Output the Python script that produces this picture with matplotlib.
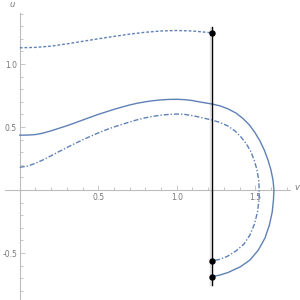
import matplotlib
matplotlib.use("Agg")
import matplotlib.pyplot as plt

# --- data ---
solid_v = [0.0, 0.05, 0.1, 0.15, 0.2, 0.25, 0.3, 0.35, 0.4, 0.45, 0.5, 0.55,
           0.6, 0.65, 0.7, 0.75, 0.8, 0.85, 0.9, 0.95, 1.0, 1.05, 1.1, 1.15,
           1.222, 1.275, 1.326, 1.377, 1.422, 1.463, 1.498, 1.530, 1.559,
           1.581, 1.600, 1.613, 1.619, 1.616, 1.608, 1.590, 1.562, 1.520,
           1.466, 1.403, 1.326, 1.275, 1.222]
solid_u = [0.435, 0.436, 0.44, 0.452, 0.47, 0.49, 0.51, 0.532, 0.555, 0.578,
           0.60, 0.62, 0.64, 0.658, 0.675, 0.689, 0.70, 0.709, 0.715, 0.719,
           0.72, 0.717, 0.71, 0.698, 0.683, 0.668, 0.644, 0.611, 0.567,
           0.516, 0.456, 0.389, 0.313, 0.238, 0.159, 0.079, 0.0, -0.079,
           -0.175, -0.278, -0.381, -0.476, -0.556, -0.611, -0.655, -0.675,
           -0.688]

dashdot_v = [0.0, 0.05, 0.1, 0.15, 0.2, 0.25, 0.3, 0.35, 0.4, 0.45, 0.5,
             0.55, 0.6, 0.65, 0.7, 0.75, 0.8, 0.85, 0.9, 0.95, 1.0, 1.05,
             1.1, 1.15, 1.222, 1.275, 1.326, 1.371, 1.409, 1.444, 1.473,
             1.495, 1.511, 1.522, 1.525, 1.524, 1.514, 1.495, 1.466, 1.428,
             1.377, 1.320, 1.269, 1.222]
dashdot_u = [0.18, 0.19, 0.212, 0.24, 0.272, 0.305, 0.337, 0.368, 0.398,
             0.426, 0.453, 0.478, 0.50, 0.52, 0.54, 0.558, 0.573, 0.585,
             0.594, 0.60, 0.603, 0.60, 0.59, 0.577, 0.556, 0.536, 0.508,
             0.468, 0.421, 0.365, 0.302, 0.230, 0.159, 0.079, 0.0, -0.079,
             -0.175, -0.270, -0.357, -0.429, -0.484, -0.528, -0.552, -0.561]

dotted_v = [0.0, 0.1, 0.2, 0.3, 0.4, 0.5, 0.6, 0.7, 0.8, 0.9, 1.0, 1.1,
            1.222]
dotted_u = [1.129, 1.132, 1.142, 1.16, 1.18, 1.20, 1.219, 1.237, 1.252,
            1.262, 1.266, 1.262, 1.248]

line_v = 1.222
line_u = [1.29, -0.754]
point_u = [1.248, -0.561, -0.688]

x_ticks = [0.5, 1.0, 1.5]
x_tick_labels = ["0.5", "1.0", "1.5"]
y_ticks = [-0.5, 0.5, 1.0]
y_tick_labels = ["-0.5", "0.5", "1.0"]
x_minor = [0.1, 0.2, 0.3, 0.4, 0.6, 0.7, 0.8, 0.9, 1.1, 1.2, 1.3, 1.4,
           1.6, 1.7]
y_minor = [-0.8, -0.7, -0.6, -0.4, -0.3, -0.2, -0.1, 0.1, 0.2, 0.3, 0.4,
           0.6, 0.7, 0.8, 0.9, 1.1, 1.2, 1.3, 1.4]

# --- figure ---
col = "#5e81b5"
axcol = "#bdbdbd"
labcol = "#777777"

fig = plt.figure(figsize=(3, 3), dpi=100)
ax = fig.add_axes([0, 0, 1, 1])
ax.set_xlim(-0.126, 1.785)
ax.set_ylim(-0.873, 1.508)

for s in ["top", "right"]:
    ax.spines[s].set_visible(False)
ax.spines["left"].set_position(("data", 0))
ax.spines["bottom"].set_position(("data", 0))
ax.spines["left"].set_bounds(-0.873, 1.405)
ax.spines["bottom"].set_bounds(-0.094, 1.72)
for s in ["left", "bottom"]:
    ax.spines[s].set_color(axcol)
    ax.spines[s].set_linewidth(0.8)

ax.set_xticks(x_ticks)
ax.set_xticklabels(x_tick_labels)
ax.set_yticks(y_ticks)
ax.set_yticklabels(y_tick_labels)
ax.set_xticks(x_minor, minor=True)
ax.set_yticks(y_minor, minor=True)
ax.tick_params(which="both", direction="in", color=axcol, width=0.6)
ax.tick_params(which="major", length=3.5)
ax.tick_params(which="minor", length=2)
ax.tick_params(axis="both", labelsize=5.5, labelcolor=labcol, pad=2)

ax.text(-0.05, 1.475, "u", fontsize=6, color=labcol, style="italic",
        ha="center", va="center")
ax.text(1.765, 0.02, "v", fontsize=6, color=labcol, style="italic",
        ha="center", va="center")

ax.plot(solid_v, solid_u, color=col, lw=1.0, solid_joinstyle="round",
        zorder=3)
ax.plot(dashdot_v, dashdot_u, color=col, lw=1.0,
        dashes=(3.6, 1.4, 1.0, 1.4), zorder=3)
ax.plot(dotted_v, dotted_u, color=col, lw=1.0, dashes=(2.0, 1.4), zorder=3)

ax.plot([line_v - 0.009, line_v - 0.009], line_u, color="#e2e2e2", lw=1.0,
        zorder=2)
ax.plot([line_v, line_v], line_u, color="black", lw=1.0, zorder=4)
ax.plot([line_v] * len(point_u), point_u, "o", color="black", ms=3.6,
        zorder=5)

fig.savefig("out.png", dpi=100)
